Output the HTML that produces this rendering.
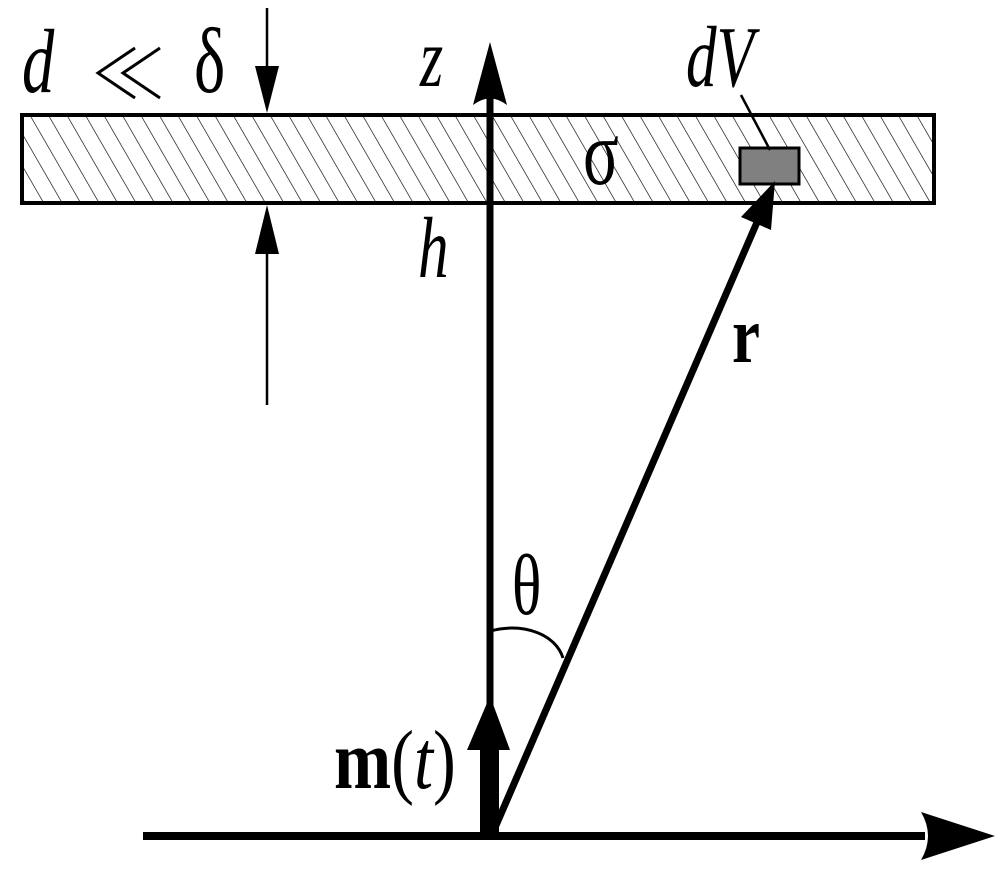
<!DOCTYPE html>
<html><head><style>html,body{margin:0;padding:0;background:#fff;width:1006px;height:878px;overflow:hidden}</style></head>
<body>
<svg width="1006" height="878" viewBox="0 0 1006 878" xmlns="http://www.w3.org/2000/svg">
<defs>
<pattern id="h" patternUnits="userSpaceOnUse" width="16" height="16" patternTransform="rotate(-30)">
<line x1="0" y1="0" x2="0" y2="16" stroke="#000" stroke-width="1.3"/>
</pattern>
</defs>
<rect x="22" y="115" width="912" height="88" fill="#fff"/>
<rect x="22" y="115" width="912" height="88" fill="url(#h)"/>
<rect x="22" y="115" width="912" height="88" fill="none" stroke="#000" stroke-width="4"/>
<rect x="740" y="148" width="59" height="36" fill="#808080" stroke="#000" stroke-width="3"/>
<line x1="741" y1="95" x2="770" y2="150" stroke="#000" stroke-width="2.5"/>
<line x1="490" y1="832" x2="490" y2="95" stroke="#000" stroke-width="7"/>
<path d="M490 42 L507 105 Q490 92 473 105 Z" fill="#000"/>
<line x1="267" y1="8" x2="267" y2="70" stroke="#000" stroke-width="2.5"/>
<path d="M267 113 L255 66 L279 66 Z" fill="#000"/>
<line x1="267" y1="250" x2="267" y2="405" stroke="#000" stroke-width="2.5"/>
<path d="M267 205 L255 254 L279 254 Z" fill="#000"/>
<line x1="143" y1="836" x2="925" y2="836" stroke="#000" stroke-width="8"/>
<path d="M995 836 L921 812 Q935 836 921 860 Z" fill="#000"/>
<rect x="480" y="745" width="19" height="88" fill="#000"/>
<path d="M490 696 L510 750 L467 750 Z" fill="#000"/>
<line x1="494" y1="830" x2="758" y2="220" stroke="#000" stroke-width="7"/>
<path d="M775 181 L771 230 L741 217 Z" fill="#000"/>
<path d="M490 631 C525 622 556 635 563 658" fill="none" stroke="#000" stroke-width="3"/>
<polyline points="135,48 98,73 135,98" fill="none" stroke="#000" stroke-width="3"/>
<polyline points="160,48 123,73 160,98" fill="none" stroke="#000" stroke-width="3"/>
<g font-family="'Liberation Serif', serif" fill="#000">
<text transform="translate(22,92) scale(0.85,1.2)" font-size="76" font-style="italic">d</text>
<text transform="translate(194,92) scale(0.85,1.2)" font-size="78">δ</text>
<text transform="translate(420,86) scale(0.85,1.2)" font-size="70" font-style="italic">z</text>
<text transform="translate(686,86) scale(0.85,1.2)" font-size="72" font-style="italic">dV</text>
<text transform="translate(583,184) scale(0.85,1.2)" font-size="78">σ</text>
<text transform="translate(418,277) scale(0.85,1.2)" font-size="72" font-style="italic">h</text>
<text transform="translate(732,362) scale(0.9,1.15)" font-size="70" font-weight="bold">r</text>
<text transform="translate(512,614) scale(0.85,1.2)" font-size="72">θ</text>
<text transform="translate(334,788) scale(0.98,1.2)" font-size="70"><tspan font-weight="bold">m</tspan>(<tspan font-style="italic">t</tspan>)</text>
</g>
</svg>
</body></html>
